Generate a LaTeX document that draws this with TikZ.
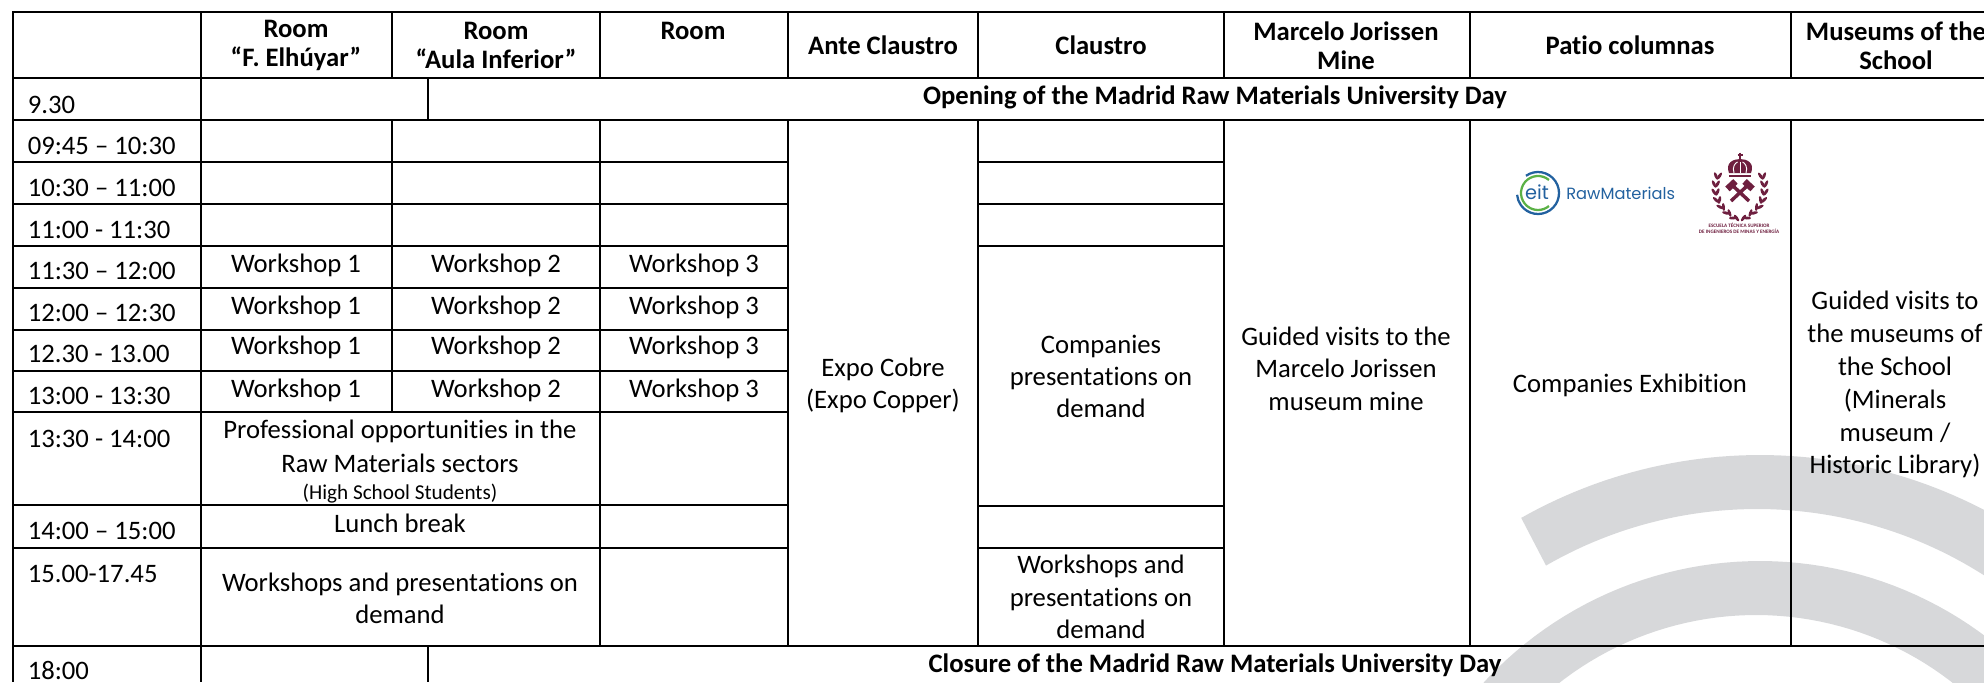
\documentclass[tikz,border=0pt]{standalone}
\usepackage{fontspec}
\setmainfont[Ligatures=NoCommon]{Carlito}
\newfontfamily\logofont{Poppins}
\definecolor{wm}{HTML}{D7D8DA}
\definecolor{eitblue}{HTML}{22619F}
\definecolor{eitgreen}{HTML}{5BB146}
\definecolor{crest}{HTML}{6E1F3F}
\newcommand{\txt}{\fontsize{20}{24.3}\selectfont}
\newcommand{\hdrtxt}{\fontsize{20}{22}\selectfont\bfseries}
\tikzset{x=0.75pt,y=-0.75pt,
 cell/.style={align=center,inner sep=0pt,font=\txt,text=black},
 one/.style={cell,anchor=base},
 hdr/.style={align=center,inner sep=0pt,font=\hdrtxt,text=black},
 time/.style={anchor=base west,inner sep=0pt,font=\txt,text=black},
 rule/.style={draw=black,line width=1.5pt},
 rulethin/.style={draw=black,line width=1.1pt},
 leaf/.style={fill=crest,draw=none}}
\begin{document}
\begin{tikzpicture}
\useasboundingbox (0,0) rectangle (1984,682);
% watermark arcs
\begin{scope}
\clip (0,0) rectangle (1984,682);
\fill[wm] plot[domain=119.5:50,samples=60] ({1760+485*cos(\x)},{940-485*sin(\x)})
  -- plot[domain=50:120,samples=60] ({1757+422*cos(\x)},{931-422*sin(\x)}) -- cycle;
\fill[wm] plot[domain=140:30,samples=60] ({1760+375*cos(\x)},{936-375*sin(\x)})
  -- plot[domain=30:140,samples=60] ({1756+319*cos(\x)},{934-319*sin(\x)}) -- cycle;
\end{scope}
% rules
\foreach \y in {12,78,120,646}{\draw[rule] (13,\y) -- (1984,\y);}
\foreach \y in {162,204,246,288,330,371,412,505,548}{\draw[rule] (13,\y) -- (788,\y);}
\foreach \y in {162,204,246,506,548}{\draw[rule] (978,\y) -- (1224,\y);}
\draw[rule] (13,11.3) -- (13,682);
\draw[rule] (201,12) -- (201,682);
\draw[rule] (428,78) -- (428,120);
\draw[rule] (428,646) -- (428,682);
\draw[rulethin] (392,12)--(392,78);
\draw[rulethin] (392,120)--(392,412);
\draw[rulethin] (600,12)--(600,78);
\draw[rulethin] (600,120)--(600,646);
\foreach \x in {788,978,1224,1470,1791}{\draw[rule] (\x,12)--(\x,78); \draw[rule] (\x,120)--(\x,646);}
% header
\node[hdr] (h1) at (296,45.5) {Room\\“F. Elhúyar”};
\node[hdr] (h2) at (496,45.5) {Room\\“Aula Inferior”};
\node[hdr] (h3) at (693,30.5) {Room};
\node[hdr] (h4) at (883,45.5) {Ante Claustro};
\node[hdr] (h5) at (1101,45.5) {Claustro};
\node[hdr] (h6) at (1346,45.5) {Marcelo Jorissen\\Mine};
\node[hdr] (h7) at (1630,45.5) {Patio columnas};
\node[hdr] (h8) at (1896,45.5) {Museums of the\\School};
\node[hdr,anchor=base] (open) at (1215,104) {Opening of the Madrid Raw Materials University Day};
\node[hdr,anchor=base] (close) at (1215,672) {Closure of the Madrid Raw Materials University Day};
% times
\node[time] (t1) at (27.5,113) {9.30};
\node[time] (t2) at (27.5,154) {09:45 – 10:30};
\node[time] (t3) at (27.5,196) {10:30 – 11:00};
\node[time] (t4) at (27.5,238) {11:00 - 11:30};
\node[time] (t5) at (27.5,279.5) {11:30 – 12:00};
\node[time] (t6) at (27.5,321.5) {12:00 – 12:30};
\node[time] (t7) at (27.5,362) {12.30 - 13.00};
\node[time] (t8) at (27.5,404) {13:00 - 13:30};
\node[time] (t9) at (27.5,447) {13:30 - 14:00};
\node[time] (t10) at (27.5,539) {14:00 – 15:00};
\node[time] (t11) at (27.5,582) {15.00-17.45};
\node[time] (t12) at (27.5,679) {18:00};
% workshops
\foreach \r/\b in {a/272,b/314,c/354.5,d/397}{
  \node[one] (w1\r) at (296,\b) {Workshop 1};
  \node[one] (w2\r) at (496,\b) {Workshop 2};
  \node[one] (w3\r) at (694,\b) {Workshop 3};
}
\node[one] (pro1) at (400,438) {Professional opportunities in the};
\node[one] (pro2) at (400,472) {Raw Materials sectors};
\node[one,font=\fontsize{15.9}{18}\selectfont] (pro3) at (400,499) {(High School Students)};
\node[one] (lunch) at (400,532) {Lunch break};
\node[cell] (wpd) at (400,598.5) {Workshops and presentations on\\demand};
\node[cell] (expo) at (883,385.5) {Expo Cobre\\(Expo Copper)};
\node[cell] (comp) at (1101,376.5) {Companies\\presentations on\\demand};
\node[cell] (wcl) at (1101,597) {Workshops and\\presentations on\\demand};
\node[cell] (mine) at (1346,368.5) {Guided visits to the\\Marcelo Jorissen\\museum mine};
\node[cell] (exh) at (1630,385.5) {Companies Exhibition};
\node[cell,font=\fontsize{20}{24.7}\selectfont] (mus) at (1895,384.5) {Guided visits to\\the museums of\\the School\\(Minerals\\museum /\\Historic Library)};
% eit logo
\draw[eitblue,line width=1.7pt] ({1538+21*cos(125)},{193-21*sin(125)}) arc[start angle=-125,end angle=175,radius=21];
\draw[eitgreen,line width=1.7pt] ({1538+17*cos(50)},{193-17*sin(50)}) arc[start angle=-50,delta angle=-260,radius=17];
\node[inner sep=0pt,text=eitblue,font=\logofont\fontsize{14.5}{15}\selectfont] (eit) at (1537,192) {eit};
\node[inner sep=0pt,anchor=base west,text=eitblue,font=\logofont\fontsize{12.2}{13}\selectfont] (raw) at (1566,199) {RawMaterials};
% crest
\begin{scope}[crest]
\draw[line width=1.1pt] (1740,152.5) -- (1740,160);
\draw[line width=1pt] (1737.5,155) -- (1742.5,155);
\fill (1729,173) .. controls (1725,163) and (1733,159) .. (1740,159) .. controls (1747,159) and (1755,163) .. (1751,173) -- cycle;
\draw[white,line width=0.7pt] (1734,173) .. controls (1732,167) and (1735,163) .. (1737.5,162);
\draw[white,line width=0.7pt] (1746,173) .. controls (1748,167) and (1745,163) .. (1742.5,162);
\draw[white,line width=0.7pt] (1740,173) -- (1740,162);
\fill (1729,174.5) rectangle (1751,177);
% hammers
\draw[line width=2.6pt] (1731,201) -- (1748,185);
\draw[line width=2.6pt] (1749,201) -- (1732,185);
\fill[rotate around={-43:(1748,185)}] (1743,181.5) rectangle (1754,188);
\fill[rotate around={43:(1732,185)}] (1726,181.5) rectangle (1737,188);
% laurels
\foreach \px/\py/\ang in {1716/176/85,1714/184/88,1714/192/95,1716/200/108,1720/207/125,1726/213/138,1733/218/155}{
  \pgfmathsetmacro{\qx}{3480-\px}
  \pgfmathsetmacro{\angm}{180-\ang}
  \fill[leaf,rotate around={\ang+28:(\px,\py)}] (\px,\py) ellipse [x radius=4,y radius=1.5];
  \fill[leaf,rotate around={\ang-28:(\px+3.5,\py)}] (\px+3.5,\py) ellipse [x radius=4,y radius=1.5];
  \fill[leaf,rotate around={\angm-28:(\qx,\py)}] (\qx,\py) ellipse [x radius=4,y radius=1.5];
  \fill[leaf,rotate around={\angm+28:(\qx-3.5,\py)}] (\qx-3.5,\py) ellipse [x radius=4,y radius=1.5];
}
\end{scope}
\node[inner sep=0pt,text=crest,align=center,font=\fontsize{3.85}{4.6}\selectfont\bfseries] (etsi) at (1739,228) {ESCUELA TÉCNICA SUPERIOR\\DE INGENIEROS DE MINAS Y ENERGÍA};
\end{tikzpicture}
\end{document}
